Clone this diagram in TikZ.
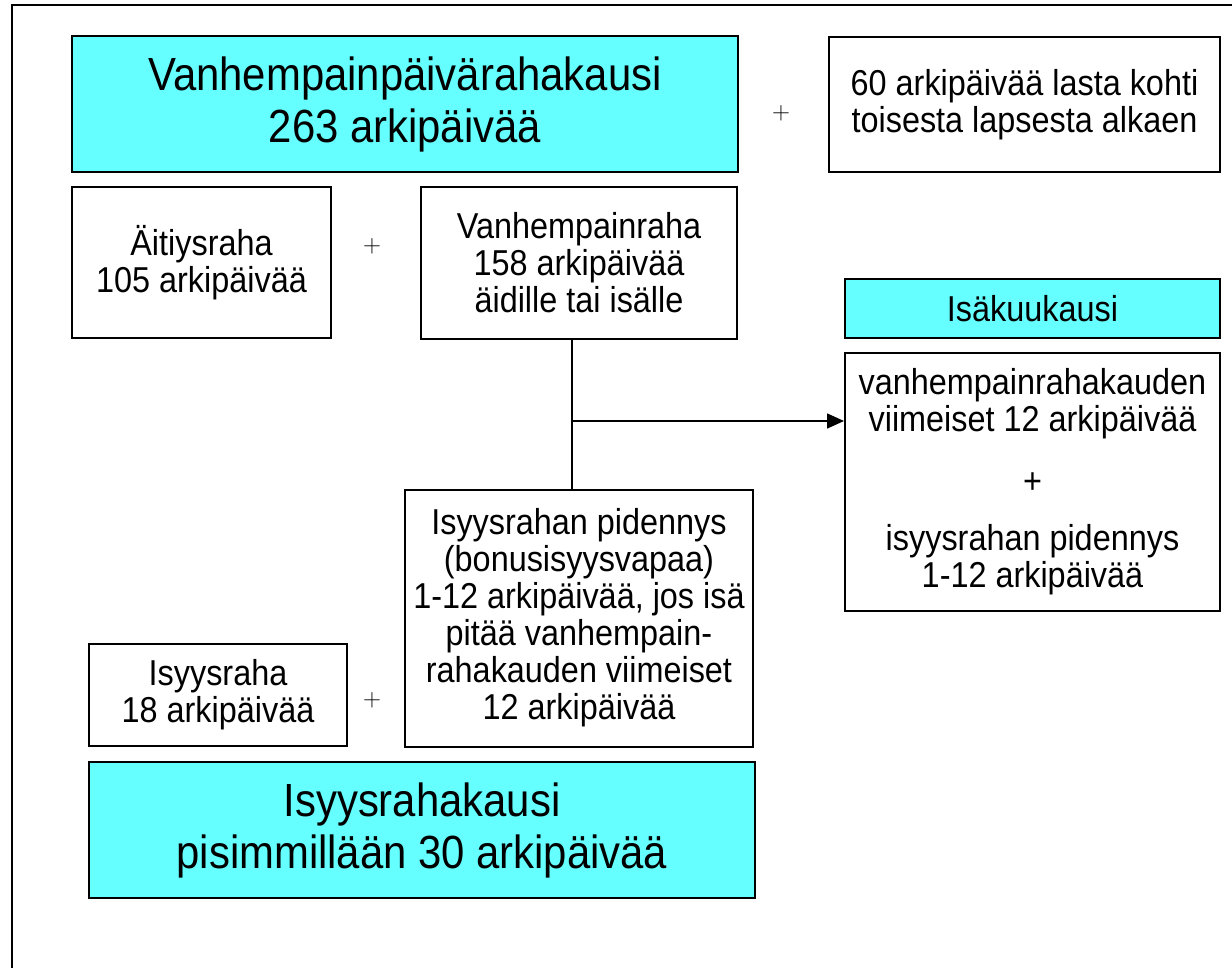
\documentclass[tikz,border=0pt]{standalone}
\usepackage{fontspec}
\setmainfont[FakeStretch=0.9]{Liberation Sans}
\usetikzlibrary{arrows.meta,positioning}
\definecolor{kausi}{HTML}{66FFFF}

\begin{document}
\begin{tikzpicture}[x=1pt,y=-1pt,
  box/.style={draw,line width=2pt,inner sep=0pt,align=center,
    font=\fontsize{36}{37}\selectfont},
  bigbox/.style={box,fill=kausi,font=\fontsize{46.5}{52}\selectfont},
  plus/.style={inner sep=0pt,font=\fontsize{26}{26}\selectfont}]
  \useasboundingbox (0,0) rectangle (1232,968);
  \draw [line width=1.8pt] (12,968) -- (12,5) -- (1232,5);
  % upper row
  \node (vpkausi) [bigbox,minimum width=666,minimum height=136] at (405,104)
    {Vanhempainpäivärahakausi\\263 arkipäivää};
  \node (plus1) [plus] at (781,113) {$+$};
  \node (lapset) [box,minimum width=391,minimum height=135] at (1024.5,104.5)
    {60 arkipäivää lasta kohti\\toisesta lapsesta alkaen};
  \node (aitiys) [box,minimum width=259,minimum height=151] at (201.5,262.5)
    {Äitiysraha\\105 arkipäivää};
  \node (plus2) [plus] at (372,246) {$+$};
  \node (vanh) [box,minimum width=316,minimum height=152] at (579,263)
    {Vanhempainraha\\158 arkipäivää\\äidille tai isälle};
  % right side
  \node (isakk) [box,fill=kausi,minimum width=375,minimum height=59] at (1032.5,308.5)
    {Isäkuukausi};
  \node (viim) [box,minimum width=375,minimum height=258] at (1032.5,482)
    {vanhempainrahakauden\\viimeiset 12 arkipäivää\\[25pt]+\\[20pt]isyysrahan pidennys\\1-12 arkipäivää};
  % lower row
  \node (bonus) [box,minimum width=348,minimum height=257] at (579,618)
    {Isyysrahan pidennys\\(bonusisyysvapaa)\\1-12 arkipäivää, jos isä\\pitää vanhempain-\\rahakauden viimeiset\\12 arkipäivää};
  \node (isyys) [box,minimum width=258,minimum height=102] at (218,695)
    {Isyysraha\\18 arkipäivää};
  \node (plus3) [plus] at (372,700) {$+$};
  \node (iskausi) [bigbox,minimum width=666,minimum height=136] at (422,830)
    {Isyysrahakausi\\pisimmillään 30 arkipäivää};
  % connectors
  \coordinate (haara) at (572,421);
  \draw [line width=1.6pt] ([xshift=-7pt]vanh.south) -- ([xshift=-7pt]bonus.north);
  \draw [line width=1.6pt,-{Triangle[length=17pt,width=15pt]}] (haara) -- (haara -| viim.west);
\end{tikzpicture}
\end{document}
